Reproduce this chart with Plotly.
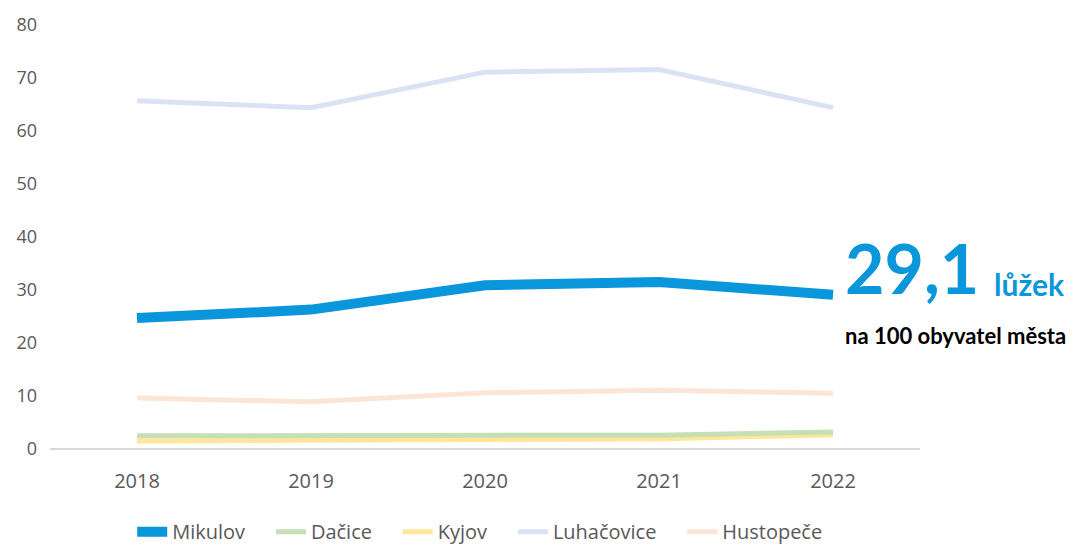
import plotly.graph_objects as go

years = ["2018", "2019", "2020", "2021", "2022"]
mikulov = [24.7, 26.3, 30.9, 31.5, 29.1]
dacice = [2.5, 2.5, 2.6, 2.6, 3.2]
kyjov = [1.5, 1.6, 1.9, 1.9, 2.7]
luhacovice = [65.7, 64.4, 71.1, 71.6, 64.4]
hustopece = [9.6, 8.9, 10.6, 11.1, 10.5]

series = [
    ("Luhačovice", luhacovice, "#DAE3F3", 5),
    ("Hustopeče", hustopece, "#FBE5D6", 5),
    ("Kyjov", kyjov, "#FFE699", 5),
    ("Dačice", dacice, "#C5E0B4", 5),
    ("Mikulov", mikulov, "#0A96DA", 10),
]
legend_rank = {"Mikulov": 1, "Dačice": 2, "Kyjov": 3, "Luhačovice": 4, "Hustopeče": 5}
PAD = "\u00a0" * 4  # invisible spacing between legend entries

fig = go.Figure()
for name, vals, color, w in series:
    fig.add_trace(go.Scatter(
        x=years, y=vals, name=name + PAD, mode="lines",
        line=dict(color=color, width=w),
        legendrank=legend_rank[name],
    ))

# the page body has an 8px default margin, so the figure is 8px smaller
fig.update_layout(
    width=1067, height=537,
    margin=dict(l=42, r=155, t=17, b=96, autoexpand=False),
    paper_bgcolor="white", plot_bgcolor="white",
    font=dict(family="Open Sans", color="#595959", size=18),
    showlegend=True,
    legend=dict(orientation="h", x=0.506, xanchor="center", y=-0.195, yanchor="middle",
                font=dict(size=20, color="#595959"), traceorder="normal",
                itemwidth=30),
    xaxis=dict(type="category", range=[-0.5, 4.5], showgrid=False, zeroline=False,
               showline=False, ticks="", ticklabelstandoff=18, automargin=False,
               tickfont=dict(size=20, color="#595959")),
    yaxis=dict(range=[0, 80], dtick=10, showgrid=False, zeroline=True,
               zerolinecolor="#D9D9D9", zerolinewidth=2, showline=False, ticks="",
               ticklabelstandoff=12, automargin=False,
               tickfont=dict(size=18, color="#595959")),
)

fig.add_annotation(xref="paper", yref="paper", x=0.912, y=0.428, xanchor="left", yanchor="middle",
                   text="<b>29,1</b>", showarrow=False,
                   font=dict(family="Lato", size=68, color="#0A96DA"))
fig.add_annotation(xref="paper", yref="paper", x=1.083, y=0.39, xanchor="left", yanchor="middle",
                   text="<b>lůžek</b>", showarrow=False,
                   font=dict(family="Lato", size=30, color="#0A96DA"))
fig.add_annotation(xref="paper", yref="paper", x=0.911, y=0.267, xanchor="left", yanchor="middle",
                   text="<b>na 100 obyvatel města</b>", showarrow=False,
                   font=dict(family="Lato", size=22, color="#000000"))

fig.write_html("out.html")
